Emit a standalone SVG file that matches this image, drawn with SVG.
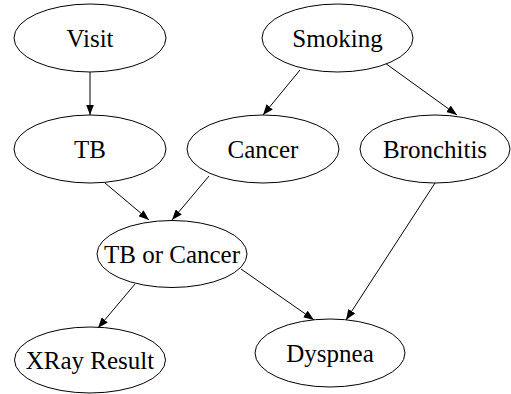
<svg xmlns="http://www.w3.org/2000/svg" width="511" height="394" viewBox="0 0 511 394">
<style>
.n ellipse{fill:#fff;stroke:#000;stroke-width:1}
.n text{font-family:"Liberation Serif","Times New Roman",serif;font-size:25px;text-anchor:middle;fill:#000}
.e line{stroke:#000;stroke-width:1}
</style>
<defs>
<marker id="ah" markerUnits="userSpaceOnUse" markerWidth="11" markerHeight="8" viewBox="0 0 11 8" refX="10.5" refY="4" orient="auto">
<path d="M0,0 L10.5,4 L0,8 Z" fill="#000"/>
</marker>
</defs>
<rect width="511" height="394" fill="#fff"/>
<g id="edges" class="e">
<line x1="90" y1="72" x2="90" y2="115" marker-end="url(#ah)"/>
<line x1="300" y1="70" x2="263" y2="115" marker-end="url(#ah)"/>
<line x1="385" y1="63" x2="457" y2="115" marker-end="url(#ah)"/>
<line x1="105" y1="183" x2="149" y2="220" marker-end="url(#ah)"/>
<line x1="209" y1="176" x2="172" y2="220" marker-end="url(#ah)"/>
<line x1="435" y1="183" x2="346" y2="320" marker-end="url(#ah)"/>
<line x1="135" y1="284" x2="98" y2="328" marker-end="url(#ah)"/>
<line x1="241" y1="269" x2="314" y2="320" marker-end="url(#ah)"/>
</g>
<g id="visit" class="n"><ellipse cx="90" cy="38" rx="76" ry="34"/><text x="90" y="46.5">Visit</text></g>
<g id="smoking" class="n"><ellipse cx="337.5" cy="38" rx="75.5" ry="34"/><text x="337.5" y="46.5">Smoking</text></g>
<g id="tb" class="n"><ellipse cx="90" cy="149" rx="76" ry="34"/><text x="90" y="157.5">TB</text></g>
<g id="cancer" class="n"><ellipse cx="263" cy="149" rx="76" ry="34"/><text x="263" y="157.5">Cancer</text></g>
<g id="bronchitis" class="n"><ellipse cx="435" cy="149" rx="75" ry="34"/><text x="435" y="157.5">Bronchitis</text></g>
<g id="tborcancer" class="n"><ellipse cx="172" cy="254" rx="75" ry="33.5"/><text x="172" y="262.5">TB or Cancer</text></g>
<g id="xray" class="n"><ellipse cx="90" cy="360" rx="75.5" ry="33"/><text x="90" y="368.5">XRay Result</text></g>
<g id="dyspnea" class="n"><ellipse cx="330" cy="353" rx="75" ry="34"/><text x="330" y="361.5">Dyspnea</text></g>
</svg>
